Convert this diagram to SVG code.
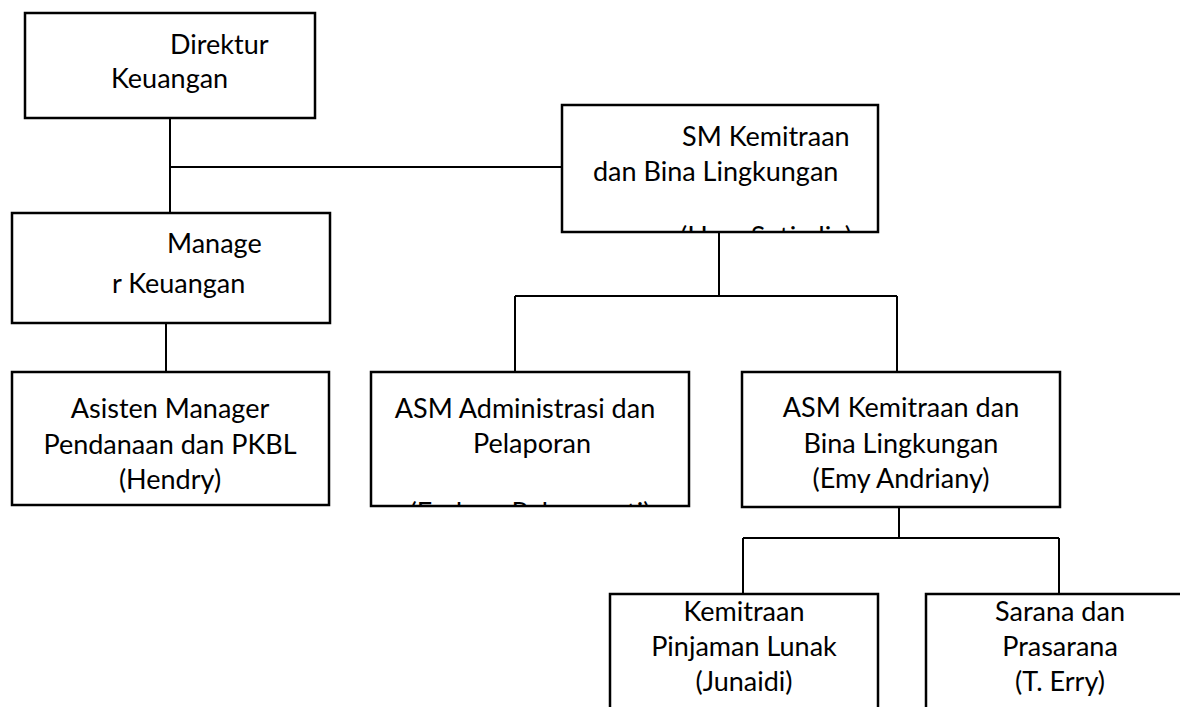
<svg xmlns="http://www.w3.org/2000/svg" width="1180" height="707" viewBox="0 0 1180 707">
<style>
.box{fill:#fff;stroke:#000;stroke-width:2.5}
.c{fill:none;stroke:#000;stroke-width:2}
.t{font-family:Lato,"Open Sans","Liberation Sans",sans-serif;font-size:27px;fill:#000}
.m{text-anchor:middle}
</style>
<defs>
<clipPath id="clipSM"><rect x="562" y="105" width="316" height="126"/></clipPath>
<clipPath id="clipADM"><rect x="371" y="372" width="318" height="133"/></clipPath>
</defs>
<rect width="1180" height="707" fill="#fff"/>
<g id="connectors">
<line class="c" x1="170" y1="118" x2="170" y2="213"/>
<line class="c" x1="170" y1="167" x2="562" y2="167" stroke-width="1.5"/>
<line class="c" x1="166" y1="323" x2="166" y2="372"/>
<line class="c" x1="719" y1="232" x2="719" y2="296"/>
<line class="c" x1="515" y1="296" x2="897" y2="296" stroke-width="1.5"/>
<line class="c" x1="515" y1="296" x2="515" y2="372"/>
<line class="c" x1="897" y1="296" x2="897" y2="372"/>
<line class="c" x1="899" y1="507" x2="899" y2="538"/>
<line class="c" x1="743" y1="538" x2="1059" y2="538"/>
<line class="c" x1="743" y1="538" x2="743" y2="594"/>
<line class="c" x1="1059" y1="538" x2="1059" y2="594"/>
</g>
<g id="direktur">
<rect class="box" x="25" y="13" width="290" height="105"/>
<text class="t" x="170" y="54">Direktur</text>
<text class="t" x="111" y="88">Keuangan</text>
</g>
<g id="manager">
<rect class="box" x="12" y="213" width="318" height="110"/>
<text class="t" x="167" y="253">Manage</text>
<text class="t" x="112" y="293">r Keuangan</text>
</g>
<g id="asisten">
<rect class="box" x="12" y="372" width="317" height="133"/>
<text class="t m" x="170" y="418">Asisten Manager</text>
<text class="t m" x="170" y="454">Pendanaan dan PKBL</text>
<text class="t m" x="170" y="489">(Hendry)</text>
</g>
<g id="sm">
<rect class="box" x="562" y="105" width="316" height="127"/>
<g clip-path="url(#clipSM)">
<text class="t" x="682" y="146">SM Kemitraan</text>
<text class="t" x="593" y="181">dan Bina Lingkungan</text>
<text class="t m" x="766" y="246">(Hary Setiadie)</text>
</g>
</g>
<g id="asm-admin">
<rect class="box" x="371" y="372" width="318" height="134"/>
<g clip-path="url(#clipADM)">
<text class="t m" x="525" y="418">ASM Administrasi dan</text>
<text class="t m" x="532" y="453">Pelaporan</text>
<text class="t m" x="530" y="522">(Endang Rahmawati)</text>
</g>
</g>
<g id="asm-kemitraan">
<rect class="box" x="742" y="372" width="318" height="135"/>
<text class="t m" x="901" y="417">ASM Kemitraan dan</text>
<text class="t m" x="901" y="453">Bina Lingkungan</text>
<text class="t m" x="901" y="488">(Emy Andriany)</text>
</g>
<g id="kemitraan-pl">
<rect class="box" x="610" y="594" width="268" height="130"/>
<text class="t m" x="744" y="621">Kemitraan</text>
<text class="t m" x="744" y="656">Pinjaman Lunak</text>
<text class="t m" x="744" y="691">(Junaidi)</text>
</g>
<g id="sarana">
<rect class="box" x="926" y="594" width="268" height="130"/>
<text class="t m" x="1060" y="621">Sarana dan</text>
<text class="t m" x="1060" y="656">Prasarana</text>
<text class="t m" x="1060" y="691">(T. Erry)</text>
</g>
</svg>
